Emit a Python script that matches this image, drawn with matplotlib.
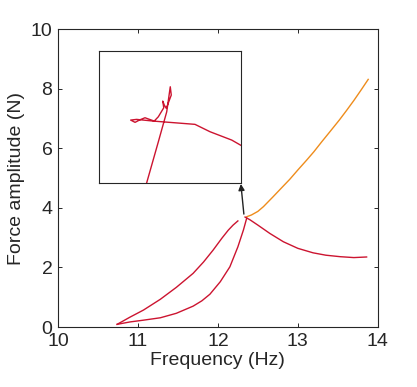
import matplotlib
matplotlib.use("Agg")
import matplotlib.pyplot as plt

plt.rcParams['font.family'] = ['Liberation Sans', 'DejaVu Sans']

RED = "#cc1430"
ORANGE = "#ee8c1c"

# lower branch, rises steeply up to the jump
up_freq = [10.74, 10.90, 11.07, 11.28, 11.48, 11.69, 11.80, 11.90, 12.03, 12.15,
           12.25, 12.32, 12.36]
up_force = [0.09, 0.17, 0.23, 0.31, 0.46, 0.70, 0.88, 1.10, 1.52, 2.02,
            2.69, 3.26, 3.65]

# upper-left branch
low_freq = [10.74, 10.90, 11.07, 11.28, 11.48, 11.69, 11.82, 11.94, 12.05, 12.13,
            12.19, 12.25]
low_force = [0.09, 0.33, 0.57, 0.93, 1.33, 1.80, 2.18, 2.58, 2.98, 3.25,
             3.42, 3.56]

# descending branch after the peak
down_freq = [12.34, 12.40, 12.50, 12.65, 12.82, 13.00, 13.19, 13.35, 13.53, 13.70, 13.86]
down_force = [3.69, 3.60, 3.42, 3.14, 2.86, 2.64, 2.49, 2.41, 2.36, 2.33, 2.35]

# orange branch
or_freq = [12.36, 12.42, 12.50, 12.57, 12.69, 12.80, 12.90, 13.00, 13.11, 13.20,
           13.30, 13.40, 13.52, 13.61, 13.70, 13.79, 13.88]
or_force = [3.70, 3.76, 3.88, 4.04, 4.37, 4.68, 4.96, 5.27, 5.60, 5.88,
            6.22, 6.55, 6.95, 7.27, 7.60, 7.95, 8.31]

# inset: zoom around the jump point
ins_freq = [12.3336, 12.3418, 12.3477, 12.3502, 12.3509, 12.3474, 12.3460, 12.3449,
            12.3456, 12.3418, 12.3389, 12.3324, 12.3289, 12.3254, 12.3223, 12.3265,
            12.3382, 12.3676, 12.3782, 12.3935, 12.4005]
ins_force = [3.5506, 3.6282, 3.6850, 3.7324, 3.7167, 3.6915, 3.6977, 3.7053,
             3.6926, 3.6756, 3.6674, 3.6737, 3.6699, 3.6650, 3.6693, 3.6706,
             3.6674, 3.6612, 3.6472, 3.6314, 3.6206]

fig = plt.figure(figsize=(4.17, 3.87), dpi=100)
ax = fig.add_axes([0.139, 0.155, 0.767, 0.770])

ax.plot(or_freq, or_force, color=ORANGE, lw=1.0)
ax.plot(up_freq, up_force, color=RED, lw=1.0)
ax.plot(low_freq, low_force, color=RED, lw=1.0)
ax.plot(down_freq, down_force, color=RED, lw=1.0)

ax.set_xlim(10, 14)
ax.set_ylim(0, 10)
ax.set_xticks([10, 11, 12, 13, 14])
ax.set_yticks([0, 2, 4, 6, 8, 10])
ax.tick_params(direction="in", length=3, width=0.7, top=True, right=True,
               labelsize=14, colors="#262626", pad=4)
for s in ax.spines.values():
    s.set_linewidth(0.8)
    s.set_color("#262626")
ax.set_xlabel("Frequency (Hz)", fontsize=14, color="#262626", labelpad=2)
ax.set_ylabel("Force amplitude (N)", fontsize=14, color="#262626", labelpad=4)

ax.annotate("", xy=(12.2875, 4.80), xytext=(12.325, 3.79),
            arrowprops=dict(arrowstyle="-|>", color="#222222", lw=1.0,
                            mutation_scale=9, shrinkA=0, shrinkB=0))

ins = fig.add_axes([0.2374, 0.527, 0.3405, 0.341])
ins.plot(ins_freq, ins_force, color=RED, lw=1.0)
ins.set_xlim(12.30, 12.40)
ins.set_ylim(3.55, 3.80)
ins.set_xticks([])
ins.set_yticks([])
for s in ins.spines.values():
    s.set_linewidth(0.8)
    s.set_color("#262626")

fig.savefig("out.png", dpi=100)
plt.close(fig)
